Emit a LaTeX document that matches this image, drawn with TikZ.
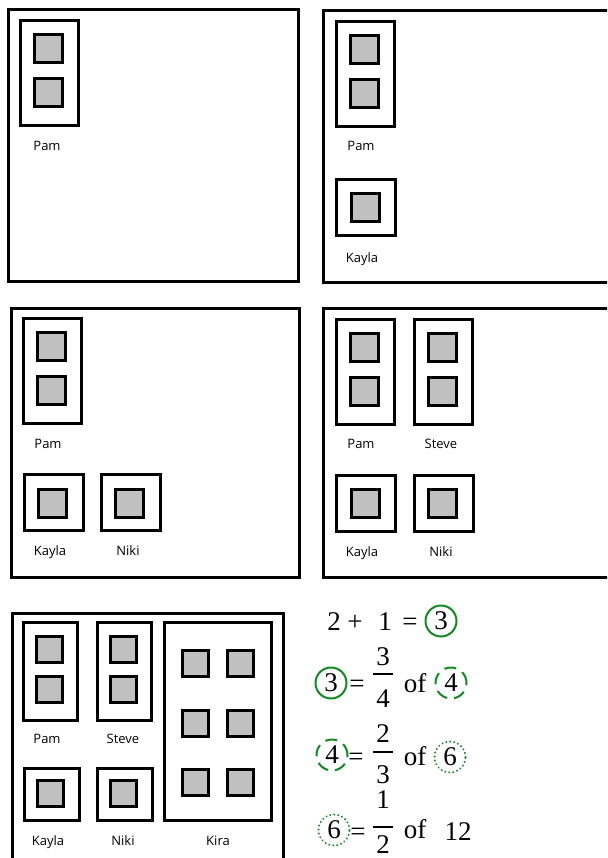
\documentclass[tikz,border=0pt]{standalone}
\usepackage{fontspec}
\newfontfamily\namefont{Open Sans}
\newfontfamily\eqfont{Liberation Serif}
\usetikzlibrary{positioning}
\definecolor{ringgreen}{RGB}{16,138,32}
\definecolor{tilegray}{RGB}{192,192,192}

\begin{document}
\begin{tikzpicture}[
    x=1pt, y=-1pt,
    panel/.style={draw, line width=3pt},
    twobox/.style={rectangle, draw, line width=3pt, minimum width=58pt, minimum height=105pt, inner sep=0pt},
    onebox/.style={rectangle, draw, line width=3pt, minimum width=59pt, minimum height=56pt, inner sep=0pt},
    bigbox/.style={rectangle, draw, line width=3pt, minimum width=107pt, minimum height=198pt, inner sep=0pt},
    tile/.style={rectangle, draw, line width=3pt, fill=tilegray, minimum size=28pt, inner sep=0pt},
    kidname/.style={font=\namefont\fontsize{13}{15}\selectfont, inner sep=0pt, anchor=base},
    eq/.style={font=\eqfont\fontsize{27}{30}\selectfont, inner sep=0pt, anchor=base},
    ring/.style={circle, draw=ringgreen, line width=2pt, minimum size=31pt, inner sep=0pt, font=\eqfont\fontsize{27}{30}\selectfont},
    dashring/.style={ring, dash pattern=on 12pt off 7pt},
    dotring/.style={ring, line width=2.2pt, line cap=round, dash pattern=on 0.01pt off 4pt},
    fracbar/.style={line width=2.4pt}
]
\useasboundingbox (0,0) rectangle (607,858);
\clip (0,0) rectangle (607,858);

% first: Pam only
\draw[panel] (8,10) rectangle (298,281);
\node[twobox] (pamA) at (49.5,73) {};
\node[tile] (pamAt1) at (48.5,48.5) {};
\node[tile] (pamAt2) at (48.5,92.5) {};
\node[kidname] (pamAname) at (47,151) {Pam};

% second: Pam and Kayla
\draw[panel] (323,11) rectangle (615,282);
\node[twobox] (pamB) at (365,74.5) {};
\node[tile] (pamBt1) at (364,50) {};
\node[tile] (pamBt2) at (364,93.5) {};
\node[kidname] (pamBname) at (361,151) {Pam};
\node[onebox] (kayB) at (366,207.5) {};
\node[tile] (kayBt) at (365,207.5) {};
\node[kidname] (kayBname) at (362,262) {Kayla};

% third: Pam, Kayla, Niki
\draw[panel] (11,308) rectangle (299,577);
\node[twobox] (pamC) at (52,371) {};
\node[tile] (pamCt1) at (51.5,346.5) {};
\node[tile] (pamCt2) at (51.5,390) {};
\node[kidname] (pamCname) at (48,448) {Pam};
\node[onebox] (kayC) at (53.5,502.5) {};
\node[tile] (kayCt) at (52.5,503) {};
\node[kidname] (kayCname) at (50,555) {Kayla};
\node[onebox] (nikC) at (131,502.5) {};
\node[tile] (nikCt) at (129,503) {};
\node[kidname] (nikCname) at (128,555) {Niki};

% fourth: Steve joins
\draw[panel] (323,308) rectangle (615,577);
\node[twobox] (pamD) at (365,371.5) {};
\node[tile] (pamDt1) at (364,347.5) {};
\node[tile] (pamDt2) at (364,391) {};
\node[kidname] (pamDname) at (361,448) {Pam};
\node[twobox] (steD) at (443,371.5) {};
\node[tile] (steDt1) at (442,347.5) {};
\node[tile] (steDt2) at (442,391) {};
\node[kidname] (steDname) at (441,448) {Steve};
\node[onebox] (kayD) at (366,503.5) {};
\node[tile] (kayDt) at (365,503) {};
\node[kidname] (kayDname) at (362,556) {Kayla};
\node[onebox] (nikD) at (443.5,503.5) {};
\node[tile] (nikDt) at (442,503) {};
\node[kidname] (nikDname) at (441,556) {Niki};

% fifth: Kira joins
\draw[panel] (12,613) rectangle (283,865);
\node[twobox, minimum width=54pt, minimum height=98pt] (pamE) at (50.5,671.5) {};
\node[tile, minimum size=26pt] (pamEt1) at (49.5,649.5) {};
\node[tile, minimum size=26pt] (pamEt2) at (49.5,689.5) {};
\node[kidname] (pamEname) at (47,743) {Pam};
\node[twobox, minimum width=54pt, minimum height=98pt] (steE) at (124.5,671.5) {};
\node[tile, minimum size=26pt] (steEt1) at (123.5,649.5) {};
\node[tile, minimum size=26pt] (steEt2) at (123.5,689.5) {};
\node[kidname] (steEname) at (123,743) {Steve};
\node[onebox, minimum width=55pt, minimum height=52pt] (kayE) at (52,794.5) {};
\node[tile, minimum size=26pt] (kayEt) at (50,793.5) {};
\node[kidname] (kayEname) at (48,845) {Kayla};
\node[onebox, minimum width=55pt, minimum height=52pt] (nikE) at (125,794.5) {};
\node[tile, minimum size=26pt] (nikEt) at (123.5,793.5) {};
\node[kidname] (nikEname) at (123,845) {Niki};
\node[bigbox] (kirE) at (218,721.5) {};
\foreach \row/\ty in {1/663.5, 2/723, 3/782} {
  \node[tile, minimum size=26pt] (kirEt\row a) at (195.5,\ty) {};
  \node[tile, minimum size=26pt] (kirEt\row b) at (240.5,\ty) {};
}
\node[kidname] (kirEname) at (218,845) {Kira};

% sums
\node[eq] (sumtwo) at (334,630) {2};
\node[eq] (sumplus) at (355,630) {+};
\node[eq] (sumone) at (385,630) {1};
\node[eq] (sumeq) at (410,630) {=};
\node[ring] (three) at (441,621) {3};

\node[ring] (threeB) at (331,683) {3};
\node[eq] (eqB) at (357,692) {=};
\node[eq] (numB) at (383,665) {3};
\draw[fracbar] (373,674) -- (393,674);
\node[eq] (denB) at (383,707) {4};
\node[eq] (ofB) at (415,692) {of};
\node[dashring] (four) at (451,683) {4};

\node[dashring] (fourC) at (332,755) {4};
\node[eq] (eqC) at (356,765) {=};
\node[eq] (numC) at (383,742) {2};
\draw[fracbar] (373,752) -- (393,752);
\node[eq] (denC) at (383,783) {3};
\node[eq] (ofC) at (415,765) {of};
\node[dotring] (six) at (450,757) {6};

\node[dotring] (sixD) at (334,830) {6};
\node[eq] (eqD) at (358,840) {=};
\node[eq] (numD) at (383,808) {1};
\draw[fracbar] (373,827) -- (393,827);
\node[eq] (denD) at (383,853) {2};
\node[eq] (ofD) at (415,838) {of};
\node[eq] (twelve) at (458,840) {12};

\end{tikzpicture}
\end{document}
